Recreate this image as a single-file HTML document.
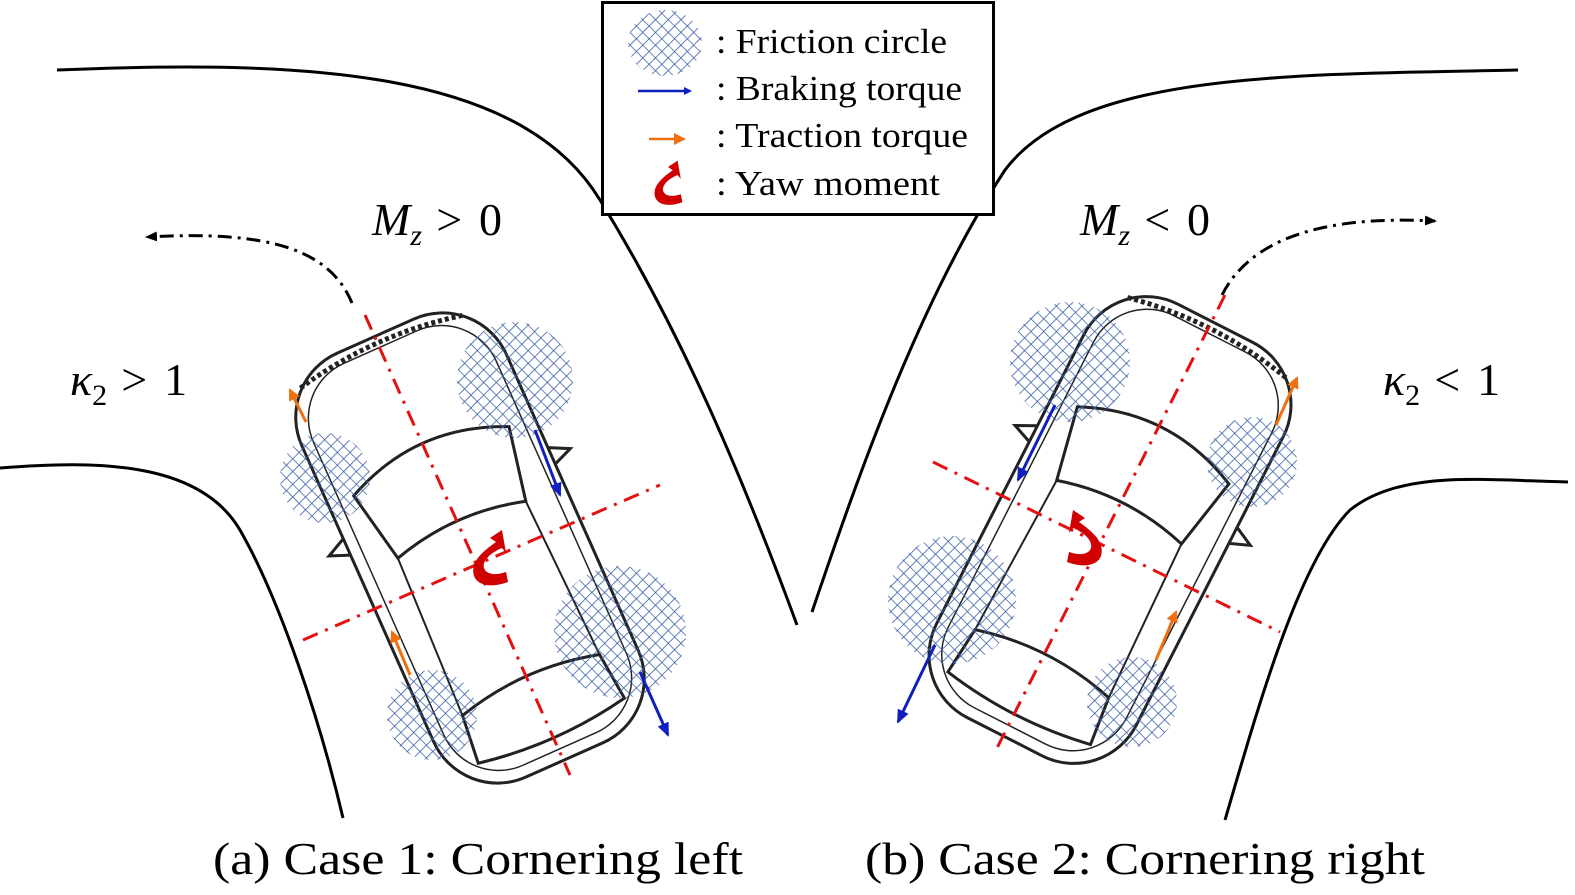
<!DOCTYPE html>
<html><head><meta charset="utf-8"><style>
html,body{margin:0;padding:0;background:#fff}
svg{display:block}
text{font-family:"Liberation Serif",serif;fill:#000}
</style></head><body>
<svg width="1575" height="895" viewBox="0 0 1575 895" xmlns="http://www.w3.org/2000/svg">
<defs>
<pattern id="hatch" width="9" height="9" patternUnits="userSpaceOnUse" patternTransform="rotate(45)">
<path d="M0,0 H9 M0,0 V9" stroke="#3b5fa8" stroke-width="1.6" fill="none"/>
</pattern>
<marker id="ab" markerWidth="8" markerHeight="8" refX="6" refY="4" orient="auto" markerUnits="userSpaceOnUse"><path d="M0,0 L8,4 L0,8z" fill="#1020c0"/></marker>
<marker id="ab2" markerWidth="14" markerHeight="12" refX="12" refY="6" orient="auto" markerUnits="userSpaceOnUse"><path d="M0,0 L14,6 L0,12z" fill="#1020c0"/></marker>
<marker id="ao" markerWidth="12" markerHeight="12" refX="10" refY="6" orient="auto" markerUnits="userSpaceOnUse"><path d="M0,0 L12,6 L0,12z" fill="#f07010"/></marker>
<marker id="ak" markerWidth="12" markerHeight="10" refX="10" refY="5" orient="auto" markerUnits="userSpaceOnUse"><path d="M0,0 L12,5 L0,10z" fill="#000"/></marker>
<g id="car" fill="none" stroke="#222" stroke-width="3">
<rect x="-112" y="-232" width="224" height="464" rx="70"/>
<rect x="-100" y="-220" width="200" height="440" rx="60" stroke-width="1.5"/>
<path d="M-85,-95 Q0,-135 85,-95 L70,-20 Q0,-40 -70,-20Z"/>
<path d="M-75,150 Q0,130 75,150 L80,200 Q0,215 -80,200Z"/>
<path d="M-70,-20 L-75,150 M70,-20 L75,150" stroke-width="2"/>
<path d="M-112,-60 l-20,10 l20,8 M112,-60 l20,10 l-20,8"/>
<path d="M-90,-215 Q0,-235 90,-215" stroke-width="5" stroke-dasharray="4 3"/>
</g>
<g id="yaw" fill="#d00000">
<path d="M22,-28 L10,-20 L16,-16 C2,-6 -10,4 -6,18 C-2,28 12,30 28,24 L26,14 C14,18 6,16 4,10 C2,2 12,-6 22,-10 L26,-5 Z"/>
</g>
</defs>

<!-- roads -->
<g fill="none" stroke="#000" stroke-width="3">
<path d="M57,70 C300,60 520,68 600,200 C680,330 740,470 797,625"/>
<path d="M0,468 C100,460 200,462 240,530 C280,600 320,720 343,818"/>
<path d="M812,612 C860,470 920,300 1005,170 C1080,70 1300,75 1518,70"/>
<path d="M1225,820 C1260,700 1300,560 1350,510 C1400,470 1480,480 1568,482"/>
</g>
<g fill="none" stroke="#000" stroke-width="3" stroke-dasharray="14 6 3 6">
<path d="M352,303 C330,250 270,230 147,237" marker-end="url(#ak)"/>
<path d="M1222,295 C1250,240 1320,215 1435,221" marker-end="url(#ak)"/>
</g>

<!-- left car -->
<g transform="translate(470,548) rotate(-24)"><use href="#car"/></g>
<g fill="url(#hatch)">
<circle cx="515" cy="380" r="58"/><circle cx="325" cy="478" r="45"/>
<circle cx="620" cy="632" r="66"/><circle cx="432" cy="715" r="45"/>
</g>
<g stroke="#e51010" stroke-width="3" stroke-dasharray="16 8 3 8" fill="none">
<path d="M365,315 L570,775"/><path d="M303,640 L660,485"/>
</g>
<g stroke-width="3" fill="none">
<path d="M306,422 L290,390" stroke="#f07010" marker-end="url(#ao)"/>
<path d="M410,675 L392,632" stroke="#f07010" marker-end="url(#ao)"/>
<path d="M535,430 L560,495" stroke="#1020c0" marker-end="url(#ab2)"/>
<path d="M640,672 L668,735" stroke="#1020c0" marker-end="url(#ab2)"/>
</g>
<g transform="translate(480,558)"><use href="#yaw"/></g>

<!-- right car -->
<g transform="translate(1110,530) rotate(27)"><use href="#car"/></g>
<g fill="url(#hatch)">
<circle cx="1070" cy="362" r="60"/><circle cx="1252" cy="462" r="45"/>
<circle cx="952" cy="600" r="64"/><circle cx="1132" cy="702" r="45"/>
</g>
<g stroke="#e51010" stroke-width="3" stroke-dasharray="16 8 3 8" fill="none">
<path d="M1225,295 L995,752"/><path d="M933,462 L1280,632"/>
</g>
<g stroke-width="3" fill="none">
<path d="M1276,425 L1297,378" stroke="#f07010" marker-end="url(#ao)"/>
<path d="M1156,660 L1176,612" stroke="#f07010" marker-end="url(#ao)"/>
<path d="M1055,405 L1018,480" stroke="#1020c0" marker-end="url(#ab2)"/>
<path d="M935,645 L898,722" stroke="#1020c0" marker-end="url(#ab2)"/>
</g>
<g transform="translate(1095,538) scale(-1,1)"><use href="#yaw"/></g>

<!-- labels -->
<text x="372" y="235" font-size="46"><tspan font-style="italic">M</tspan><tspan font-style="italic" font-size="30" dy="10">z</tspan><tspan dy="-10" textLength="80" lengthAdjust="spacing"> &gt; 0</tspan></text>
<text x="1080" y="235" font-size="46"><tspan font-style="italic">M</tspan><tspan font-style="italic" font-size="30" dy="10">z</tspan><tspan dy="-10" textLength="80" lengthAdjust="spacing"> &lt; 0</tspan></text>
<text x="70" y="395" font-size="46"><tspan font-style="italic">κ</tspan><tspan font-size="30" dy="10">2</tspan><tspan dy="-10" textLength="80" lengthAdjust="spacing"> &gt; 1</tspan></text>
<text x="1383" y="395" font-size="46"><tspan font-style="italic">κ</tspan><tspan font-size="30" dy="10">2</tspan><tspan dy="-10" textLength="80" lengthAdjust="spacing"> &lt; 1</tspan></text>
<text x="213" y="874" font-size="46" textLength="530" lengthAdjust="spacingAndGlyphs">(a) Case 1: Cornering left</text>
<text x="865" y="874" font-size="46" textLength="560" lengthAdjust="spacingAndGlyphs">(b) Case 2: Cornering right</text>

<!-- legend -->
<rect x="602.5" y="2.5" width="391" height="212" fill="#fff" stroke="#000" stroke-width="3"/>
<ellipse cx="665" cy="43" rx="37" ry="33" fill="url(#hatch)"/>
<path d="M638,91 L690,91" stroke="#1020c0" stroke-width="2.5" marker-end="url(#ab)"/>
<path d="M649,139 L684,139" stroke="#f07010" stroke-width="2.5" marker-end="url(#ao)"/>
<g transform="translate(660,183) scale(0.8)"><use href="#yaw"/></g>
<g font-size="35">
<text x="716" y="53" textLength="231" lengthAdjust="spacingAndGlyphs">: Friction circle</text>
<text x="716" y="100" textLength="246" lengthAdjust="spacingAndGlyphs">: Braking torque</text>
<text x="716" y="147" textLength="252" lengthAdjust="spacingAndGlyphs">: Traction torque</text>
<text x="716" y="195" textLength="224" lengthAdjust="spacingAndGlyphs">: Yaw moment</text>
</g>
</svg>
</body></html>
